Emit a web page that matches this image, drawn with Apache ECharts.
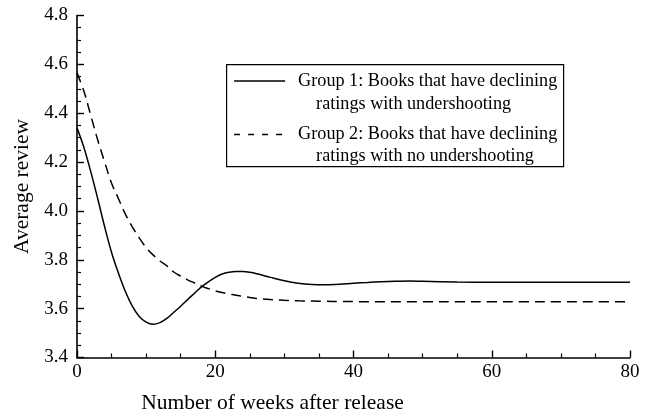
<!DOCTYPE html>
<html>
<head>
<meta charset="utf-8">
<script src="https://cdn.jsdelivr.net/npm/echarts@6/dist/echarts.min.js"></script>
<style>
  html, body { margin: 0; padding: 0; background: #fff; }
  #chart { width: 646px; height: 413px; }
</style>
</head>
<body>
<div id="chart"></div>
<script>
// Weeks after release at which the averages are sampled
const weeks = [0, 1, 2, 3, 4, 5, 6, 7, 8, 9, 10, 11, 12, 13, 14, 15, 16, 17, 18, 19, 20,
  21, 22, 23, 24, 25, 26, 28, 30, 32, 34, 36, 38, 40, 42, 44, 46, 48, 50, 55, 60, 65, 70, 75, 80];

// Group 1: declining ratings with undershooting
const group1 = [4.34, 4.26, 4.16, 4.05, 3.935, 3.83, 3.745, 3.67, 3.61, 3.568, 3.545, 3.536, 3.543, 3.56,
  3.585, 3.61, 3.637, 3.663, 3.689, 3.71, 3.728, 3.742, 3.749, 3.752, 3.752, 3.749, 3.743, 3.728, 3.714,
  3.704, 3.699, 3.698, 3.700, 3.704, 3.707, 3.710, 3.712, 3.713, 3.712, 3.709, 3.708, 3.708, 3.708, 3.708, 3.708];

// Group 2: declining ratings with no undershooting
const group2 = [4.565, 4.49, 4.39, 4.29, 4.20, 4.113, 4.05, 3.987, 3.935, 3.89, 3.85, 3.82, 3.795, 3.775,
  3.75, 3.733, 3.718, 3.705, 3.692, 3.682, 3.673, 3.666, 3.66, 3.655, 3.65, 3.646, 3.642, 3.637, 3.634,
  3.632, 3.631, 3.630, 3.629, 3.629, 3.628, 3.628, 3.628, 3.628, 3.628, 3.628, 3.628, 3.628, 3.628, 3.628, 3.628];

const legendLines = [
  ['Group 1: Books that have declining', 'ratings with undershooting'],
  ['Group 2: Books that have declining', 'ratings with no undershooting']
];

const FONT = '"Liberation Serif", "Times New Roman", serif';

const pairs = (ys) => weeks.map((w, i) => [w, ys[i]]);

const chart = echarts.init(document.getElementById('chart'), null, { renderer: 'canvas' });

const axisCommon = {
  axisLine: { show: true, onZero: false, lineStyle: { color: '#000', width: 1.6 } },
  axisTick: { show: true, inside: true, length: 7, lineStyle: { color: '#000', width: 1.4 } },
  minorTick: { show: true, splitNumber: 4, length: 4, lineStyle: { color: '#000', width: 1.2 } },
  splitLine: { show: false },
  axisLabel: { color: '#000', fontFamily: FONT, fontSize: 19 },
  nameTextStyle: { color: '#000', fontFamily: FONT, fontSize: 21.5 }
};

const textStyle = { fontFamily: FONT, fontSize: 18.2, fill: '#000', textVerticalAlign: 'middle' };

chart.setOption({
  animation: false,
  backgroundColor: '#fff',
  grid: { left: 77, right: 16, top: 15.5, bottom: 55.5, containLabel: false, outerBoundsMode: 'none' },
  xAxis: Object.assign({}, axisCommon, {
    type: 'value', min: 0, max: 80, interval: 20,
    name: 'Number of weeks after release', nameLocation: 'middle', nameGap: 35,
    nameTextStyle: Object.assign({}, axisCommon.nameTextStyle, { padding: [0, 162, 0, 0] }),
    axisLabel: Object.assign({}, axisCommon.axisLabel, { margin: 5 })
  }),
  yAxis: Object.assign({}, axisCommon, {
    type: 'value', min: 3.4, max: 4.8, interval: 0.2,
    name: 'Average review', nameLocation: 'middle', nameGap: 40, nameRotate: 90,
    axisLabel: Object.assign({}, axisCommon.axisLabel, {
      margin: 9, formatter: (v) => v.toFixed(1)
    })
  }),
  series: [
    {
      name: legendLines[0].join(' '), type: 'line', data: pairs(group1),
      smooth: 0.35, showSymbol: false, symbol: 'none',
      lineStyle: { color: '#000', width: 1.5, type: 'solid' }
    },
    {
      name: legendLines[1].join(' '), type: 'line', data: pairs(group2),
      smooth: 0.35, showSymbol: false, symbol: 'none',
      lineStyle: { color: '#000', width: 1.5, type: [10, 6] }
    }
  ],
  graphic: [
    {
      type: 'group', left: 226, top: 64,
      children: [
        { type: 'rect', shape: { x: 0.5, y: 0.5, width: 337, height: 102 },
          style: { fill: '#fff', stroke: '#000', lineWidth: 1.2 } },
        { type: 'line', shape: { x1: 8, y1: 17, x2: 59, y2: 17 },
          style: { stroke: '#000', lineWidth: 1.5 } },
        { type: 'text', x: 72, y: 17, style: Object.assign({ text: legendLines[0][0] }, textStyle) },
        { type: 'text', x: 90, y: 40.5, style: Object.assign({ text: legendLines[0][1] }, textStyle) },
        { type: 'line', shape: { x1: 8, y1: 70.5, x2: 59, y2: 70.5 },
          style: { stroke: '#000', lineWidth: 1.5, lineDash: [6, 8] } },
        { type: 'text', x: 72, y: 70, style: Object.assign({ text: legendLines[1][0] }, textStyle) },
        { type: 'text', x: 90, y: 92, style: Object.assign({ text: legendLines[1][1] }, textStyle) }
      ]
    }
  ]
});
</script>
</body>
</html>
